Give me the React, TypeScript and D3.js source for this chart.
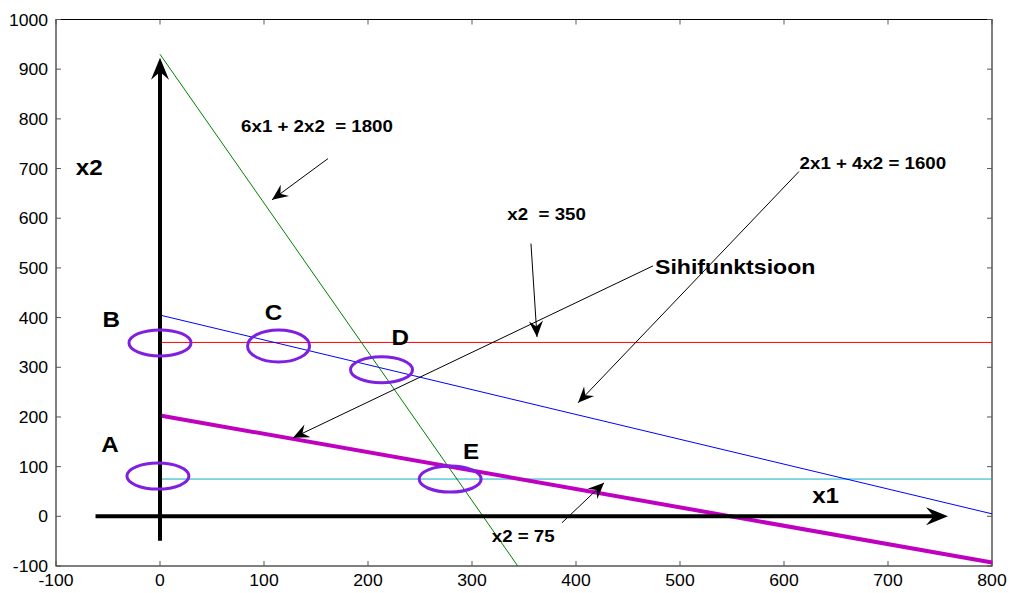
import React from "react";
import * as d3 from "d3";

const W = 1011, H = 593;
const xDomain: [number, number] = [-100, 800];
const yDomain: [number, number] = [-100, 1000];
const xTicks = [-100, 0, 100, 200, 300, 400, 500, 600, 700, 800];
const yTicks = [-100, 0, 100, 200, 300, 400, 500, 600, 700, 800, 900, 1000];

// constraint lines: [x1start, x2start, x1end, x2end]
const greenLine = [0, 930, 344, -100];
const blueLine = [0, 405, 800, 5];
const redLine = [0, 350, 800, 350];
const cyanLine = [0, 75, 800, 75];
const objLine = [0, 203, 800, -93];

// ellipse centers (data) and labels
const pointNames = ["A", "B", "C", "D", "E"];
const ellipseX = [-2, 0, 114, 213, 279];
const ellipseY = [81, 349, 343, 295, 75];
const labelX = [-48, -47, 109, 231, 299];
const labelY = [130, 382, 396, 345, 115];

// annotation arrows: start -> tip
const arrowStarts = [[161.5, 720], [356.7, 549], [474, 504], [614.4, 694], [386.5, -13]];
const arrowTips = [[107.7, 637], [362.5, 361], [127.9, 158], [402, 228.5], [427, 67.5]];
const annTexts = ["6x1 + 2x2\u00a0\u00a0= 1800", "x2\u00a0\u00a0= 350", "Sihifunktsioon", "2x1 + 4x2 = 1600", "x2 = 75"];
const annX = [78, 334, 476, 615, 319];
const annY = [773, 597, 487, 700, -52];
const annSize = [17, 17, 21, 17, 17];

const axisXStart = [-62, 0], axisXEnd = [757.7, 0];
const axisYStart = [0, -49], axisYEnd = [0, 923];

const font = "'Liberation Sans', Arial, sans-serif";
const STRETCH = 1.1;

function T(props: { x: number; y: number; size: number; bold?: boolean; anchor?: string; children: React.ReactNode }) {
  return (
    <g transform={`translate(${props.x},${props.y}) scale(${STRETCH},1)`}>
      <text x={0} y={0} textAnchor={props.anchor || "start"} fontFamily={font} fontWeight={props.bold ? "bold" : "normal"} fontSize={props.size} fill="#000">
        {props.children}
      </text>
    </g>
  );
}

export default function App() {
  const x = d3.scaleLinear().domain(xDomain).range([56, 992]);
  const y = d3.scaleLinear().domain(yDomain).range([566, 19.5]);

  const seg = (l: number[]) => d3.line()([[x(l[0]), y(l[1])], [x(l[2]), y(l[3])]]) || "";

  const arrowHead = (sx: number, sy: number, tx: number, ty: number, len: number, hw: number) => {
    const dx = tx - sx, dy = ty - sy;
    const d = Math.hypot(dx, dy);
    const ux = dx / d, uy = dy / d;
    const px = -uy, py = ux;
    const bx = tx - ux * len, by = ty - uy * len;
    const nx = tx - ux * len * 0.65, ny = ty - uy * len * 0.65;
    return `M${tx},${ty}L${bx + px * hw},${by + py * hw}L${nx},${ny}L${bx - px * hw},${by - py * hw}Z`;
  };

  const tl = 5;
  return (
    <svg width={W} height={H} style={{ position: "absolute", left: 0, top: 0, background: "#fff" }}>
      <rect x={0} y={0} width={W} height={H} fill="#fff" />
      {/* frame */}
      <rect x={x(-100)} y={y(1000)} width={x(800) - x(-100)} height={y(-100) - y(1000)} fill="none" stroke="#000" strokeWidth={1} />
      {xTicks.map((t) => (
        <g key={"xt" + t}>
          <line x1={x(t)} x2={x(t)} y1={y(-100)} y2={y(-100) - tl} stroke="#555" />
          <line x1={x(t)} x2={x(t)} y1={y(1000)} y2={y(1000) + tl} stroke="#555" />
          <T x={x(t)} y={586} size={16} anchor="middle">{t}</T>
        </g>
      ))}
      {yTicks.map((t) => (
        <g key={"yt" + t}>
          <line x1={x(-100)} x2={x(-100) + tl} y1={y(t)} y2={y(t)} stroke="#555" />
          <line x1={x(800)} x2={x(800) - tl} y1={y(t)} y2={y(t)} stroke="#555" />
          <T x={48} y={y(t) + 6} size={16} anchor="end">{t}</T>
        </g>
      ))}
      {/* constraint lines */}
      <path d={seg(cyanLine)} stroke="#10b0c0" strokeWidth={1} fill="none" />
      <path d={seg(redLine)} stroke="#ff0000" strokeWidth={1} fill="none" />
      <path d={seg(blueLine)} stroke="#0000ff" strokeWidth={1} fill="none" />
      <path d={seg(greenLine)} stroke="#008000" strokeWidth={1} fill="none" />
      <path d={seg(objLine)} stroke="#c000c0" strokeWidth={4} fill="none" />
      {/* axes arrows */}
      <line x1={x(axisXStart[0])} y1={y(axisXStart[1])} x2={x(axisXEnd[0]) - 12} y2={y(axisXEnd[1])} stroke="#000" strokeWidth={4} />
      <path d={arrowHead(x(axisXStart[0]), y(axisXStart[1]), x(axisXEnd[0]), y(axisXEnd[1]), 22, 9)} fill="#000" />
      <line x1={x(axisYStart[0])} y1={y(axisYStart[1])} x2={x(axisYEnd[0])} y2={y(axisYEnd[1]) + 12} stroke="#000" strokeWidth={4} />
      <path d={arrowHead(x(axisYStart[0]), y(axisYStart[1]), x(axisYEnd[0]), y(axisYEnd[1]), 22, 9)} fill="#000" />
      {/* annotation arrows */}
      {arrowStarts.map((s, i) => {
        const sx = x(s[0]), sy = y(s[1]);
        const tx = x(arrowTips[i][0]), ty = y(arrowTips[i][1]);
        return (
          <g key={"ar" + i}>
            <line x1={sx} y1={sy} x2={tx} y2={ty} stroke="#000" strokeWidth={1} />
            <path d={arrowHead(sx, sy, tx, ty, 16, 7)} fill="#000" />
          </g>
        );
      })}
      {annTexts.map((t, i) => (
        <T key={"an" + i} x={x(annX[i])} y={y(annY[i])} size={annSize[i]} bold>{t}</T>
      ))}
      {/* ellipses */}
      {pointNames.map((n, i) => (
        <g key={"pt" + n}>
          <ellipse cx={x(ellipseX[i])} cy={y(ellipseY[i])} rx={31} ry={i === 2 ? 16 : 13} fill="none" stroke="#7f1fe0" strokeWidth={3} />
          <T x={x(labelX[i])} y={y(labelY[i])} size={22} bold anchor="middle">{n}</T>
        </g>
      ))}
      <T x={x(-68)} y={y(688)} size={22} bold anchor="middle">x2</T>
      <T x={x(640)} y={y(27)} size={22} bold anchor="middle">x1</T>
    </svg>
  );
}
